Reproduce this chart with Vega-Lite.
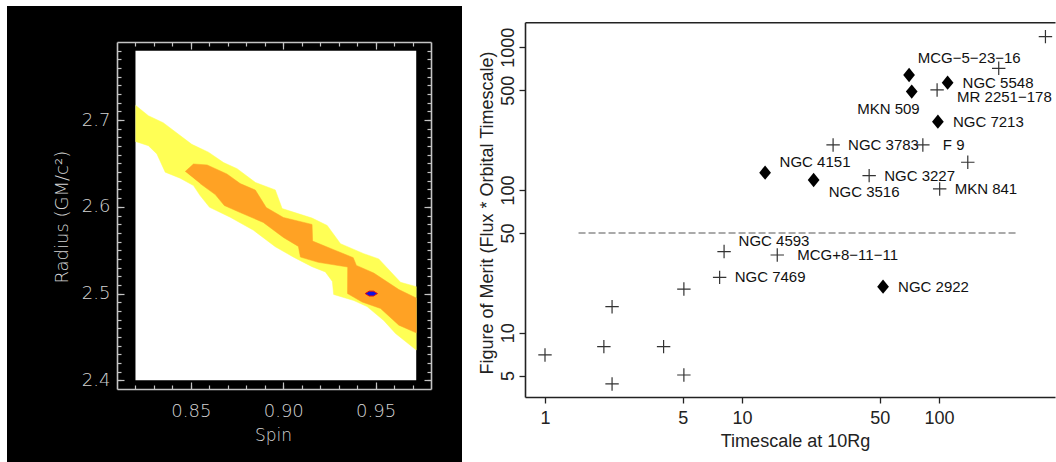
{
  "$schema": "https://vega.github.io/schema/vega-lite/v6.json",
  "background": "white",
  "padding": {"left": 7, "top": 6, "right": 1, "bottom": 0},
  "bounds": "flush",
  "spacing": 8,
  "config": {
    "view": {"stroke": null},
    "axis": {"grid": false, "labelFlush": false, "labelOverlap": false, "titleFontWeight": "normal"}
  },
  "datasets": {
    "contours": [
      {"level": "outer", "i": 0, "spin": 0.82, "radius": 2.717},
      {"level": "outer", "i": 1, "spin": 0.827, "radius": 2.705},
      {"level": "outer", "i": 2, "spin": 0.835, "radius": 2.697},
      {"level": "outer", "i": 3, "spin": 0.8505, "radius": 2.672},
      {"level": "outer", "i": 4, "spin": 0.8595, "radius": 2.663},
      {"level": "outer", "i": 5, "spin": 0.8677, "radius": 2.651},
      {"level": "outer", "i": 6, "spin": 0.875, "radius": 2.644},
      {"level": "outer", "i": 7, "spin": 0.885, "radius": 2.628},
      {"level": "outer", "i": 8, "spin": 0.8957, "radius": 2.6195},
      {"level": "outer", "i": 9, "spin": 0.8994, "radius": 2.598},
      {"level": "outer", "i": 10, "spin": 0.9156, "radius": 2.587},
      {"level": "outer", "i": 11, "spin": 0.9238, "radius": 2.5785},
      {"level": "outer", "i": 12, "spin": 0.931, "radius": 2.5575},
      {"level": "outer", "i": 13, "spin": 0.9436, "radius": 2.546},
      {"level": "outer", "i": 14, "spin": 0.9517, "radius": 2.54},
      {"level": "outer", "i": 15, "spin": 0.9635, "radius": 2.513},
      {"level": "outer", "i": 16, "spin": 0.972, "radius": 2.508},
      {"level": "outer", "i": 17, "spin": 0.972, "radius": 2.435},
      {"level": "outer", "i": 18, "spin": 0.9608, "radius": 2.454},
      {"level": "outer", "i": 19, "spin": 0.9544, "radius": 2.469},
      {"level": "outer", "i": 20, "spin": 0.9454, "radius": 2.485},
      {"level": "outer", "i": 21, "spin": 0.9382, "radius": 2.492},
      {"level": "outer", "i": 22, "spin": 0.9273, "radius": 2.499},
      {"level": "outer", "i": 23, "spin": 0.9266, "radius": 2.514},
      {"level": "outer", "i": 24, "spin": 0.9228, "radius": 2.525},
      {"level": "outer", "i": 25, "spin": 0.9156, "radius": 2.531},
      {"level": "outer", "i": 26, "spin": 0.9056, "radius": 2.542},
      {"level": "outer", "i": 27, "spin": 0.8957, "radius": 2.554},
      {"level": "outer", "i": 28, "spin": 0.8839, "radius": 2.573},
      {"level": "outer", "i": 29, "spin": 0.8713, "radius": 2.588},
      {"level": "outer", "i": 30, "spin": 0.8601, "radius": 2.5995},
      {"level": "outer", "i": 31, "spin": 0.855, "radius": 2.613},
      {"level": "outer", "i": 32, "spin": 0.8514, "radius": 2.6245},
      {"level": "outer", "i": 33, "spin": 0.8442, "radius": 2.633},
      {"level": "outer", "i": 34, "spin": 0.8361, "radius": 2.64},
      {"level": "outer", "i": 35, "spin": 0.8316, "radius": 2.661},
      {"level": "outer", "i": 36, "spin": 0.827, "radius": 2.6705},
      {"level": "outer", "i": 37, "spin": 0.82, "radius": 2.6754},
      {"level": "inner", "i": 0, "spin": 0.8469, "radius": 2.6406},
      {"level": "inner", "i": 1, "spin": 0.8514, "radius": 2.6494},
      {"level": "inner", "i": 2, "spin": 0.8588, "radius": 2.6483},
      {"level": "inner", "i": 3, "spin": 0.8695, "radius": 2.6379},
      {"level": "inner", "i": 4, "spin": 0.8767, "radius": 2.6268},
      {"level": "inner", "i": 5, "spin": 0.8849, "radius": 2.6193},
      {"level": "inner", "i": 6, "spin": 0.8908, "radius": 2.5992},
      {"level": "inner", "i": 7, "spin": 0.9001, "radius": 2.5877},
      {"level": "inner", "i": 8, "spin": 0.9156, "radius": 2.5797},
      {"level": "inner", "i": 9, "spin": 0.9159, "radius": 2.5605},
      {"level": "inner", "i": 10, "spin": 0.9273, "radius": 2.5506},
      {"level": "inner", "i": 11, "spin": 0.9379, "radius": 2.5414},
      {"level": "inner", "i": 12, "spin": 0.9396, "radius": 2.5325},
      {"level": "inner", "i": 13, "spin": 0.949, "radius": 2.5237},
      {"level": "inner", "i": 14, "spin": 0.9626, "radius": 2.5046},
      {"level": "inner", "i": 15, "spin": 0.972, "radius": 2.4949},
      {"level": "inner", "i": 16, "spin": 0.972, "radius": 2.4547},
      {"level": "inner", "i": 17, "spin": 0.9626, "radius": 2.4636},
      {"level": "inner", "i": 18, "spin": 0.9527, "radius": 2.4828},
      {"level": "inner", "i": 19, "spin": 0.9427, "radius": 2.4903},
      {"level": "inner", "i": 20, "spin": 0.9348, "radius": 2.5},
      {"level": "inner", "i": 21, "spin": 0.9349, "radius": 2.5306},
      {"level": "inner", "i": 22, "spin": 0.919, "radius": 2.536},
      {"level": "inner", "i": 23, "spin": 0.9093, "radius": 2.5421},
      {"level": "inner", "i": 24, "spin": 0.9082, "radius": 2.5544},
      {"level": "inner", "i": 25, "spin": 0.9001, "radius": 2.5647},
      {"level": "inner", "i": 26, "spin": 0.8892, "radius": 2.582},
      {"level": "inner", "i": 27, "spin": 0.8767, "radius": 2.5934},
      {"level": "inner", "i": 28, "spin": 0.8681, "radius": 2.6015},
      {"level": "inner", "i": 29, "spin": 0.8632, "radius": 2.6141},
      {"level": "inner", "i": 30, "spin": 0.855, "radius": 2.6268}
    ],
    "objects": [
      {"name": "MCG−5−23−16", "timescale": 201, "merit": 712, "class": "B", "labelPos": "aboveleft"},
      {"name": "", "timescale": 347, "merit": 1187, "class": "B", "labelPos": "none"},
      {"name": "", "timescale": 70.5, "merit": 639, "class": "A", "labelPos": "none"},
      {"name": "MKN 509", "timescale": 72.7, "merit": 489, "class": "A", "labelPos": "belowleft"},
      {"name": "NGC 5548", "timescale": 110.6, "merit": 565, "class": "A", "labelPos": "right"},
      {"name": "MR 2251−178", "timescale": 97.8, "merit": 502, "class": "B", "labelPos": "rightlow"},
      {"name": "NGC 7213", "timescale": 98.7, "merit": 301, "class": "A", "labelPos": "right"},
      {"name": "NGC 3783", "timescale": 29.0, "merit": 206.7, "class": "B", "labelPos": "right"},
      {"name": "F 9", "timescale": 82.8, "merit": 206.7, "class": "B", "labelPos": "rightwide"},
      {"name": "", "timescale": 140, "merit": 156.4, "class": "B", "labelPos": "none"},
      {"name": "NGC 4151", "timescale": 13.1, "merit": 132.2, "class": "A", "labelPos": "aboveright"},
      {"name": "NGC 3516", "timescale": 23.1, "merit": 117.5, "class": "A", "labelPos": "belowright"},
      {"name": "NGC 3227", "timescale": 44.2, "merit": 126, "class": "B", "labelPos": "right"},
      {"name": "MKN 841", "timescale": 100.8, "merit": 101.6, "class": "B", "labelPos": "right"},
      {"name": "NGC 4593", "timescale": 8.11, "merit": 37.0, "class": "B", "labelPos": "aboveright"},
      {"name": "MCG+8−11−11", "timescale": 15.1, "merit": 35.0, "class": "B", "labelPos": "rightwide"},
      {"name": "NGC 7469", "timescale": 7.7, "merit": 24.4, "class": "B", "labelPos": "right"},
      {"name": "NGC 2922", "timescale": 52.0, "merit": 21.0, "class": "A", "labelPos": "right"},
      {"name": "", "timescale": 5.07, "merit": 20.2, "class": "B", "labelPos": "none"},
      {"name": "", "timescale": 2.19, "merit": 15.2, "class": "B", "labelPos": "none"},
      {"name": "", "timescale": 1.99, "merit": 7.98, "class": "B", "labelPos": "none"},
      {"name": "", "timescale": 4.0, "merit": 7.98, "class": "B", "labelPos": "none"},
      {"name": "", "timescale": 1.0, "merit": 6.98, "class": "B", "labelPos": "none"},
      {"name": "", "timescale": 5.07, "merit": 5.05, "class": "B", "labelPos": "none"},
      {"name": "", "timescale": 2.19, "merit": 4.37, "class": "B", "labelPos": "none"}
    ]
  },
  "hconcat": [
    {
      "width": 455,
      "height": 456,
      "view": {"fill": "black", "stroke": null},
      "resolve": {"axis": {"x": "independent", "y": "independent"}},
      "layer": [
        {
          "data": {"values": [{"spin_min": 0.82, "spin_max": 0.972, "radius_min": 2.4, "radius_max": 2.78}]},
          "mark": {"type": "rect", "fill": "white"},
          "encoding": {
            "x": {"field": "spin_min", "type": "quantitative",
              "scale": {"domain": [0.81, 0.98], "range": [110, 424], "zero": false, "nice": false},
              "axis": {"orient": "bottom", "offset": -73, "values": [0.85, 0.9, 0.95], "format": ".2f",
                "tickSize": -7, "tickColor": "#c4c4c4", "tickWidth": 1.2, "domain": true, "domainColor": "#c4c4c4", "domainWidth": 1.6,
                "labelColor": "#d4d4d4", "labelFont": "DejaVu Sans", "labelFontSize": 18, "labelFontWeight": 200,
                "labelBaseline": "alphabetic", "labelPadding": 34.7,
                "title": "Spin", "titleColor": "#d4d4d4", "titleFont": "DejaVu Sans", "titleFontSize": 17, "titleFontWeight": 200,
                "titleX": 266, "titleY": 51, "titleBaseline": "alphabetic", "titleAlign": "center"}},
            "x2": {"field": "spin_max"},
            "y": {"field": "radius_min", "type": "quantitative",
              "scale": {"domain": [2.39, 2.79], "range": [383, 36], "zero": false, "nice": false},
              "axis": {"orient": "left", "offset": -110, "values": [2.4, 2.5, 2.6, 2.7], "format": ".1f",
                "tickSize": -7, "tickColor": "#c4c4c4", "tickWidth": 1.2, "domain": true, "domainColor": "#c4c4c4", "domainWidth": 1.6,
                "labelColor": "#d4d4d4", "labelFont": "DejaVu Sans", "labelFontSize": 18, "labelFontWeight": 200,
                "labelAlign": "right", "labelBaseline": "middle", "labelPadding": 14,
                "title": "Radius  (GM/c²)", "titleColor": "#d4d4d4", "titleFont": "DejaVu Sans", "titleFontSize": 18, "titleFontWeight": 200,
                "titleAngle": -90, "titleX": -50, "titleY": 210.7, "titleBaseline": "alphabetic", "titleAlign": "center"}},
            "y2": {"field": "radius_max"}
          }
        },
        {
          "data": {"name": "contours"},
          "transform": [{"filter": "datum.level === 'outer'"}],
          "mark": {"type": "line", "fill": "#ffff55", "stroke": "#ffff55", "strokeWidth": 0.5},
          "encoding": {
            "x": {"field": "spin", "type": "quantitative",
              "axis": {"orient": "bottom", "offset": -73, "values": [0.82, 0.83, 0.84, 0.85, 0.86, 0.87, 0.88, 0.89, 0.9, 0.91, 0.92, 0.93, 0.94, 0.95, 0.96, 0.97],
                "tickSize": -4, "tickColor": "#c4c4c4", "tickWidth": 1.2, "domain": false, "labels": false, "title": null}},
            "y": {"field": "radius", "type": "quantitative",
              "axis": {"orient": "left", "offset": -110, "values": [2.4, 2.41, 2.42, 2.43, 2.44, 2.45, 2.46, 2.47, 2.48, 2.49, 2.5, 2.51, 2.52, 2.53, 2.54, 2.55, 2.56, 2.57, 2.58, 2.59, 2.6, 2.61, 2.62, 2.63, 2.64, 2.65, 2.66, 2.67, 2.68, 2.69, 2.7, 2.71, 2.72, 2.73, 2.74, 2.75, 2.76, 2.77, 2.78],
                "tickSize": -4, "tickColor": "#c4c4c4", "tickWidth": 1.2, "domain": false, "labels": false, "title": null}},
            "order": {"field": "i", "type": "quantitative"}
          }
        },
        {
          "data": {"name": "contours"},
          "transform": [{"filter": "datum.level === 'inner'"}],
          "mark": {"type": "line", "fill": "#ffa224", "stroke": "#ffa224", "strokeWidth": 0.5},
          "encoding": {
            "x": {"field": "spin", "type": "quantitative",
              "axis": {"orient": "top", "offset": -36, "values": [0.85, 0.9, 0.95],
                "tickSize": -7, "tickColor": "#c4c4c4", "tickWidth": 1.2, "domain": true, "domainColor": "#c4c4c4", "domainWidth": 1.6, "labels": false, "title": null}},
            "y": {"field": "radius", "type": "quantitative",
              "axis": {"orient": "right", "offset": -31, "values": [2.4, 2.5, 2.6, 2.7],
                "tickSize": -7, "tickColor": "#c4c4c4", "tickWidth": 1.2, "domain": true, "domainColor": "#c4c4c4", "domainWidth": 1.6, "labels": false, "title": null}},
            "order": {"field": "i", "type": "quantitative"}
          }
        },
        {
          "data": {"values": [{"spin": 0.9477, "radius": 2.5}]},
          "mark": {"type": "point", "shape": "M-1,0L-0.35,-0.4L0.35,-0.4L1,0L0.35,0.4L-0.35,0.4Z", "size": 150, "filled": true, "fill": "#1010e0", "stroke": "#e01010", "strokeWidth": 1, "opacity": 1},
          "encoding": {
            "x": {"field": "spin", "type": "quantitative",
              "axis": {"orient": "top", "offset": -36, "values": [0.82, 0.83, 0.84, 0.85, 0.86, 0.87, 0.88, 0.89, 0.9, 0.91, 0.92, 0.93, 0.94, 0.95, 0.96, 0.97],
                "tickSize": -4, "tickColor": "#c4c4c4", "tickWidth": 1.2, "domain": false, "labels": false, "title": null}},
            "y": {"field": "radius", "type": "quantitative",
              "axis": {"orient": "right", "offset": -31, "values": [2.4, 2.41, 2.42, 2.43, 2.44, 2.45, 2.46, 2.47, 2.48, 2.49, 2.5, 2.51, 2.52, 2.53, 2.54, 2.55, 2.56, 2.57, 2.58, 2.59, 2.6, 2.61, 2.62, 2.63, 2.64, 2.65, 2.66, 2.67, 2.68, 2.69, 2.7, 2.71, 2.72, 2.73, 2.74, 2.75, 2.76, 2.77, 2.78],
                "tickSize": -4, "tickColor": "#c4c4c4", "tickWidth": 1.2, "domain": false, "labels": false, "title": null}}
          }
        }
      ]
    },
    {
      "width": 585,
      "height": 456,
      "view": {"stroke": null},
      "resolve": {"axis": {"x": "independent", "y": "independent"}},
      "layer": [
        {
          "data": {"values": [{"t_start": 1.48, "t_end": 250, "merit": 50}]},
          "mark": {"type": "rule", "color": "#aaaaaa", "strokeWidth": 2, "strokeDash": [7, 3]},
          "encoding": {
            "x": {"field": "t_start", "type": "quantitative",
              "scale": {"type": "log", "domain": [0.7916, 388], "range": [55, 585], "nice": false},
              "axis": {"orient": "bottom", "offset": -65, "values": [1, 5, 10, 50, 100], "format": "d",
                "tickSize": 6, "tickColor": "#222", "tickWidth": 1.3, "domainColor": "#222", "domainWidth": 1.6,
                "labelFont": "Liberation Sans", "labelFontSize": 18, "labelColor": "#222", "labelBaseline": "alphabetic", "labelPadding": 20.3,
                "title": "Timescale at 10Rg", "titleFont": "Liberation Sans", "titleFontSize": 18, "titleColor": "#222",
                "titleX": 325, "titleY": 49.7, "titleBaseline": "alphabetic", "titleAlign": "center"}},
            "x2": {"field": "t_end"},
            "y": {"field": "merit", "type": "quantitative",
              "scale": {"type": "log", "domain": [3.54, 1496], "range": [391, 16.3], "nice": false},
              "axis": {"orient": "left", "offset": -55, "values": [5, 10, 50, 100, 500, 1000], "format": "d",
                "tickSize": 6, "tickColor": "#222", "tickWidth": 1.3, "domain": true, "domainColor": "#222", "domainWidth": 1.6,
                "labelFont": "Liberation Sans", "labelFontSize": 18, "labelColor": "#222", "labelAngle": -90,
                "labelAlign": "center", "labelBaseline": "alphabetic", "labelPadding": 6,
                "title": "Figure of Merit (Flux * Orbital Timescale)", "titleFont": "Liberation Sans", "titleFontSize": 18, "titleColor": "#222",
                "titleAngle": -90, "titleX": -33, "titleY": 206.5, "titleBaseline": "alphabetic", "titleAlign": "center"}}
          }
        },
        {
          "data": {"name": "objects"},
          "transform": [{"filter": "datum.class === 'B'"}],
          "mark": {"type": "point", "shape": "M-1,0L1,0M0,-1L0,1", "size": 180, "filled": false, "stroke": "#333333", "strokeWidth": 1.2, "opacity": 1},
          "encoding": {
            "x": {"field": "timescale", "type": "quantitative",
              "axis": {"orient": "top", "offset": -16.3, "domain": true, "domainColor": "#222", "domainWidth": 1.6, "ticks": false, "labels": false, "title": null}},
            "y": {"field": "merit", "type": "quantitative", "axis": null}
          }
        },
        {
          "data": {"name": "objects"},
          "transform": [{"filter": "datum.class === 'A'"}],
          "mark": {"type": "point", "shape": "M0,-1.1L0.9,0L0,1.1L-0.9,0Z", "size": 170, "filled": true, "color": "black", "opacity": 1},
          "encoding": {
            "x": {"field": "timescale", "type": "quantitative", "axis": null},
            "y": {"field": "merit", "type": "quantitative", "axis": null}
          }
        },
        {
          "data": {"name": "objects"},
          "transform": [{"filter": "datum.labelPos === 'right'"}],
          "mark": {"type": "text", "font": "Liberation Sans", "fontSize": 15, "color": "#111", "align": "left", "baseline": "middle", "dx": 15, "dy": 0},
          "encoding": {
            "x": {"field": "timescale", "type": "quantitative", "axis": null},
            "y": {"field": "merit", "type": "quantitative", "axis": null},
            "text": {"field": "name"}
          }
        },
        {
          "data": {"name": "objects"},
          "transform": [{"filter": "datum.labelPos === 'rightwide'"}],
          "mark": {"type": "text", "font": "Liberation Sans", "fontSize": 15, "color": "#111", "align": "left", "baseline": "middle", "dx": 20, "dy": 0},
          "encoding": {
            "x": {"field": "timescale", "type": "quantitative", "axis": null},
            "y": {"field": "merit", "type": "quantitative", "axis": null},
            "text": {"field": "name"}
          }
        },
        {
          "data": {"name": "objects"},
          "transform": [{"filter": "datum.labelPos === 'rightlow'"}],
          "mark": {"type": "text", "font": "Liberation Sans", "fontSize": 15, "color": "#111", "align": "left", "baseline": "middle", "dx": 20, "dy": 7},
          "encoding": {
            "x": {"field": "timescale", "type": "quantitative", "axis": null},
            "y": {"field": "merit", "type": "quantitative", "axis": null},
            "text": {"field": "name"}
          }
        },
        {
          "data": {"name": "objects"},
          "transform": [{"filter": "datum.labelPos === 'aboveright'"}],
          "mark": {"type": "text", "font": "Liberation Sans", "fontSize": 15, "color": "#111", "align": "left", "baseline": "middle", "dx": 14.5, "dy": -10.5},
          "encoding": {
            "x": {"field": "timescale", "type": "quantitative", "axis": null},
            "y": {"field": "merit", "type": "quantitative", "axis": null},
            "text": {"field": "name"}
          }
        },
        {
          "data": {"name": "objects"},
          "transform": [{"filter": "datum.labelPos === 'belowright'"}],
          "mark": {"type": "text", "font": "Liberation Sans", "fontSize": 15, "color": "#111", "align": "left", "baseline": "middle", "dx": 15, "dy": 12},
          "encoding": {
            "x": {"field": "timescale", "type": "quantitative", "axis": null},
            "y": {"field": "merit", "type": "quantitative", "axis": null},
            "text": {"field": "name"}
          }
        },
        {
          "data": {"name": "objects"},
          "transform": [{"filter": "datum.labelPos === 'belowleft'"}],
          "mark": {"type": "text", "font": "Liberation Sans", "fontSize": 15, "color": "#111", "align": "right", "baseline": "middle", "dx": 8, "dy": 17},
          "encoding": {
            "x": {"field": "timescale", "type": "quantitative", "axis": null},
            "y": {"field": "merit", "type": "quantitative", "axis": null},
            "text": {"field": "name"}
          }
        },
        {
          "data": {"name": "objects"},
          "transform": [{"filter": "datum.labelPos === 'aboveleft'"}],
          "mark": {"type": "text", "font": "Liberation Sans", "fontSize": 15, "color": "#111", "align": "right", "baseline": "middle", "dx": 22, "dy": -10},
          "encoding": {
            "x": {"field": "timescale", "type": "quantitative", "axis": null},
            "y": {"field": "merit", "type": "quantitative", "axis": null},
            "text": {"field": "name"}
          }
        }
      ]
    }
  ]
}
